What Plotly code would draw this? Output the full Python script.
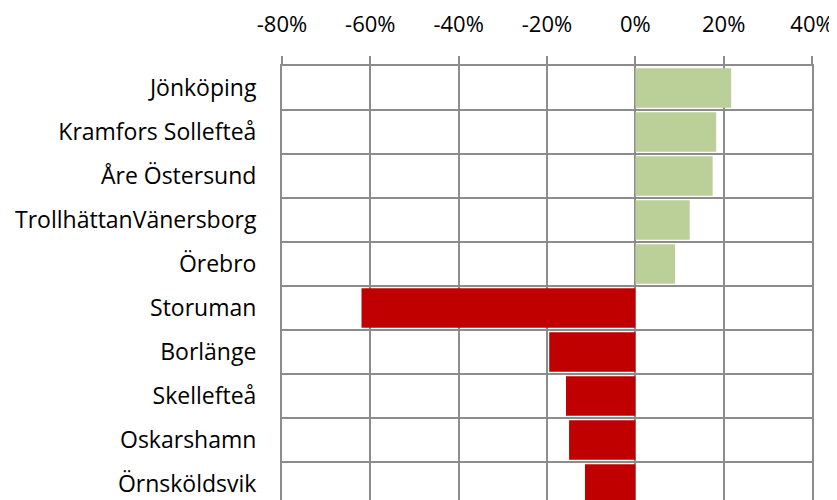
import plotly.graph_objects as go

categories = ["Jönköping", "Kramfors Sollefteå", "Åre Östersund", "TrollhättanVänersborg",
              "Örebro", "Storuman", "Borlänge", "Skellefteå", "Oskarshamn", "Örnsköldsvik"]
values = [21.7, 18.3, 17.5, 12.3, 9.0, -62.0, -19.5, -15.7, -15.0, -11.4]
colors = ["#BBCF98" if v > 0 else "#C00000" for v in values]
x_ticks = [-80, -60, -40, -20, 0, 20, 40]
x_tick_labels = [f"{t}%" for t in x_ticks]

GRID = "#8C8C8C"
FONT = "Open Sans"

fig = go.Figure(go.Bar(
    y=categories, x=values, orientation="h",
    marker=dict(color=colors, line=dict(width=0)),
    width=0.9,
))

# page body has an 8px default margin; compensate so the plot area lands at x 282-812, y 66-500
fig.update_layout(
    width=829, height=492,
    margin=dict(l=274, r=25, t=58, b=0, autoexpand=False),
    paper_bgcolor="white", plot_bgcolor="white",
    showlegend=False,
    font=dict(family=FONT, size=23, color="#000000"),
    xaxis=dict(
        side="top", range=[-80, 40], tickvals=x_ticks, ticktext=x_tick_labels,
        showgrid=True, gridcolor=GRID, gridwidth=2,
        zeroline=True, zerolinecolor=GRID, zerolinewidth=2,
        showline=True, linecolor=GRID, linewidth=2,
        ticks="outside", ticklen=8, tickcolor=GRID, tickwidth=2,
        ticklabelstandoff=15, automargin=False,
        tickfont=dict(size=22),
        fixedrange=True,
    ),
    yaxis=dict(
        type="category", categoryorder="array", categoryarray=categories,
        range=[9.364, -0.5], tickson="boundaries",
        showgrid=True, gridcolor=GRID, gridwidth=2,
        showline=True, linecolor=GRID, linewidth=2, mirror=True,
        ticks="", ticklabelstandoff=19, automargin=False,
        fixedrange=True,
    ),
)

fig.write_html("out.html")
